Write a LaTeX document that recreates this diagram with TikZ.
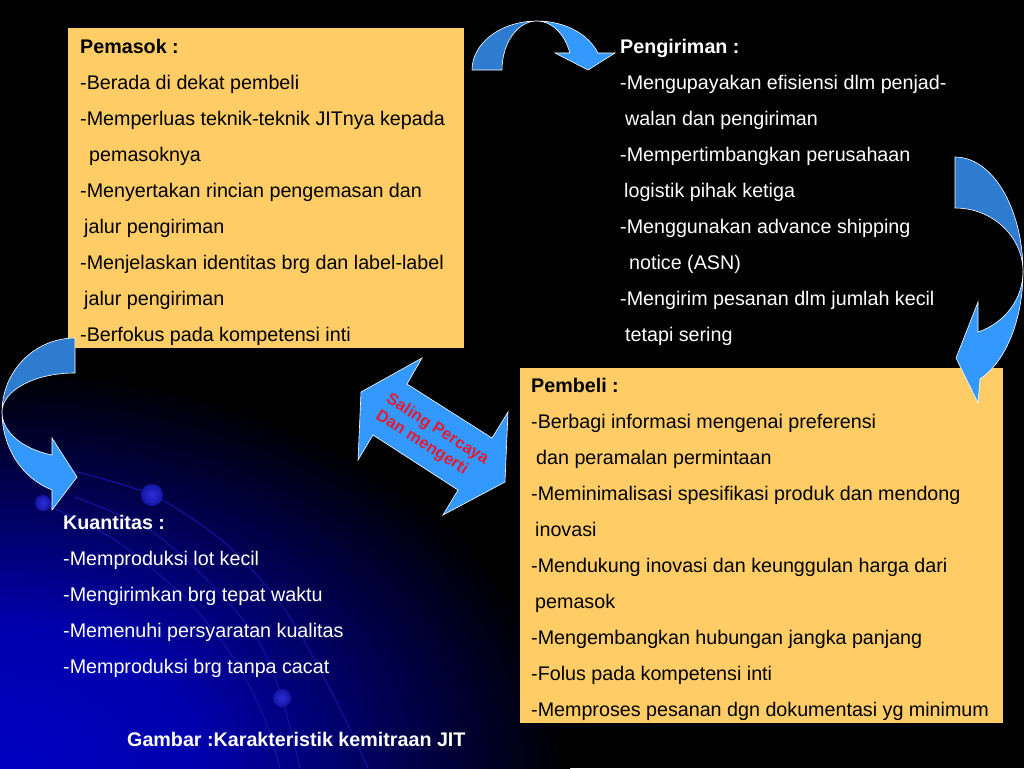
\documentclass[tikz,border=0pt]{standalone}
\usepackage{fontspec}
\setmainfont{Liberation Sans}
\definecolor{boxorange}{RGB}{255,204,102}
\definecolor{arrowdark}{RGB}{46,124,208}
\definecolor{arrowlight}{RGB}{51,153,255}
\definecolor{glowblue}{RGB}{0,0,195}
\definecolor{arcblue}{RGB}{20,20,165}
\definecolor{dotblue}{RGB}{45,45,215}
\definecolor{trustred}{RGB}{226,26,52}
\pgfdeclareradialshading{cornerglow}{\pgfpoint{0bp}{0bp}}{color(0bp)=(glowblue); color(9bp)=(glowblue!88!black); color(25bp)=(black); color(50bp)=(black)}
\tikzset{
  infobox/.style={fill=boxorange, inner sep=0pt, anchor=north west},
  lines/.style={anchor=base west, align=left, inner sep=0pt, font=\fontsize{19.7pt}{36pt}\selectfont},
  bandback/.style={fill=arrowdark, draw=white, line width=0.6pt},
  bandfront/.style={fill=arrowlight, draw=white, line width=0.6pt},
}
\begin{document}
\begin{tikzpicture}[x=1pt,y=-1pt]
				\useasboundingbox (0,0) rectangle (1024,768);
				\fill[black] (0,0) rectangle (1024,768);
				\begin{scope}
					\clip (0,0) rectangle (1024,768);
					\shade[shading=cornerglow] (0,768) ellipse[x radius=570pt, y radius=400pt];
					\draw[arcblue, line width=1pt] plot[smooth] coordinates {(62,468) (152,495) (225,543) (285,610) (333,695) (368,768)};
					\draw[arcblue, line width=1pt] plot[smooth] coordinates {(75,497) (150,530) (212,585) (258,640) (282,698) (300,768)};
					\draw[arcblue, line width=1pt] plot[smooth] coordinates {(43,503) (115,540) (185,598) (235,660) (265,720) (280,768)};
				\end{scope}
				\shade[inner color=dotblue, outer color=arcblue] (152,495) circle[radius=11pt];
				\shade[inner color=dotblue, outer color=arcblue] (43,503) circle[radius=8pt];
				\shade[inner color=dotblue, outer color=arcblue] (282,698) circle[radius=9pt];
				\node[infobox, minimum width=396pt, minimum height=320pt] (pemasokbox) at (68,28) {};
				\node[infobox, minimum width=483pt, minimum height=355pt] (pembelibox) at (520,368) {};
				% base of a multi-line node = baseline of its last line
				\node[lines] (pemasok) at (80,341) {\textbf{Pemasok :}\\-Berada di dekat pembeli\\-Memperluas teknik-teknik JITnya kepada\\\hspace*{9pt}pemasoknya\\-Menyertakan rincian pengemasan dan\\\hspace*{4pt}jalur pengiriman\\-Menjelaskan identitas brg dan label-label\\\hspace*{4pt}jalur pengiriman\\-Berfokus pada kompetensi inti};
				\node[lines, text=white] (pengiriman) at (620,341) {\textbf{Pengiriman :}\\-Mengupayakan efisiensi dlm penjad-\\\hspace*{5pt}walan dan pengiriman\\-Mempertimbangkan perusahaan\\\hspace*{4pt}logistik pihak ketiga\\-Menggunakan advance shipping\\\hspace*{9pt}notice (ASN)\\-Mengirim pesanan dlm jumlah kecil\\\hspace*{5pt}tetapi sering};
				\node[lines] (pembeli) at (531,716) {\textbf{Pembeli :}\\-Berbagi informasi mengenai preferensi\\\hspace*{5pt}dan peramalan permintaan\\-Meminimalisasi spesifikasi produk dan mendong\\\hspace*{4pt}inovasi\\-Mendukung inovasi dan keunggulan harga dari\\\hspace*{4pt}pemasok\\-Mengembangkan hubungan jangka panjang\\-Folus pada kompetensi inti\\-Memproses pesanan dgn dokumentasi yg minimum};
				\node[lines, text=white] (kuantitas) at (63,673) {\textbf{Kuantitas :}\\-Memproduksi lot kecil\\-Mengirimkan brg tepat waktu\\-Memenuhi persyaratan kualitas\\-Memproduksi brg tanpa cacat};
				\node[lines, text=white, font=\bfseries\fontsize{19.7pt}{36pt}\selectfont] (gambar) at (127,746) {Gambar :Karakteristik kemitraan JIT};
				% curved arrows
				\draw[bandback] (472,70) arc[start angle=180, end angle=90, x radius=65pt, y radius=49pt] arc[start angle=90, end angle=180, x radius=35pt, y radius=49pt] -- cycle;
				\draw[bandfront] (537,21) arc[start angle=90, end angle=20.3, x radius=65pt, y radius=49pt] -- (615,53) -- (588,70) -- (555,53) -- (569.8,53) arc[start angle=20.3, end angle=90, x radius=35pt, y radius=49pt] -- cycle;
				\draw[bandback] (955,157) arc[start angle=90, end angle=0, x radius=68pt, y radius=115pt] arc[start angle=0, end angle=90, x radius=68pt, y radius=64pt] -- cycle;
				\draw[bandfront] (1023,272) arc[start angle=0, end angle=-68.4, x radius=68pt, y radius=115pt] -- (978,403) -- (956,358) -- (978,302) -- (978,332) arc[start angle=-70.2, end angle=0, x radius=68pt, y radius=64pt] -- cycle;
				\draw[bandback] (75,338) arc[start angle=90, end angle=180, x radius=73pt, y radius=74pt] arc[start angle=180, end angle=90, x radius=73pt, y radius=39pt] -- cycle;
				\draw[bandfront] (2,412) arc[start angle=180, end angle=251.6, x radius=73pt, y radius=82pt] -- (52,510) -- (77,477) -- (52,438) -- (52,455) arc[start angle=251.6, end angle=180, x radius=73pt, y radius=45pt] -- cycle;
				% double arrow
				\draw[bandfront] (361,392) -- (422,358) -- (407,384) -- (492,438) -- (508,412) -- (505,482) -- (443,515) -- (458,490) -- (373,435) -- (358,460) -- cycle;
				\node[rotate=-32.4, text=trustred, align=left, inner sep=0pt, font=\bfseries\fontsize{16.5pt}{19.5pt}\selectfont] (percaya) at (432,438) {Saling Percaya\\Dan mengerti};
			\end{tikzpicture}
\end{document}
